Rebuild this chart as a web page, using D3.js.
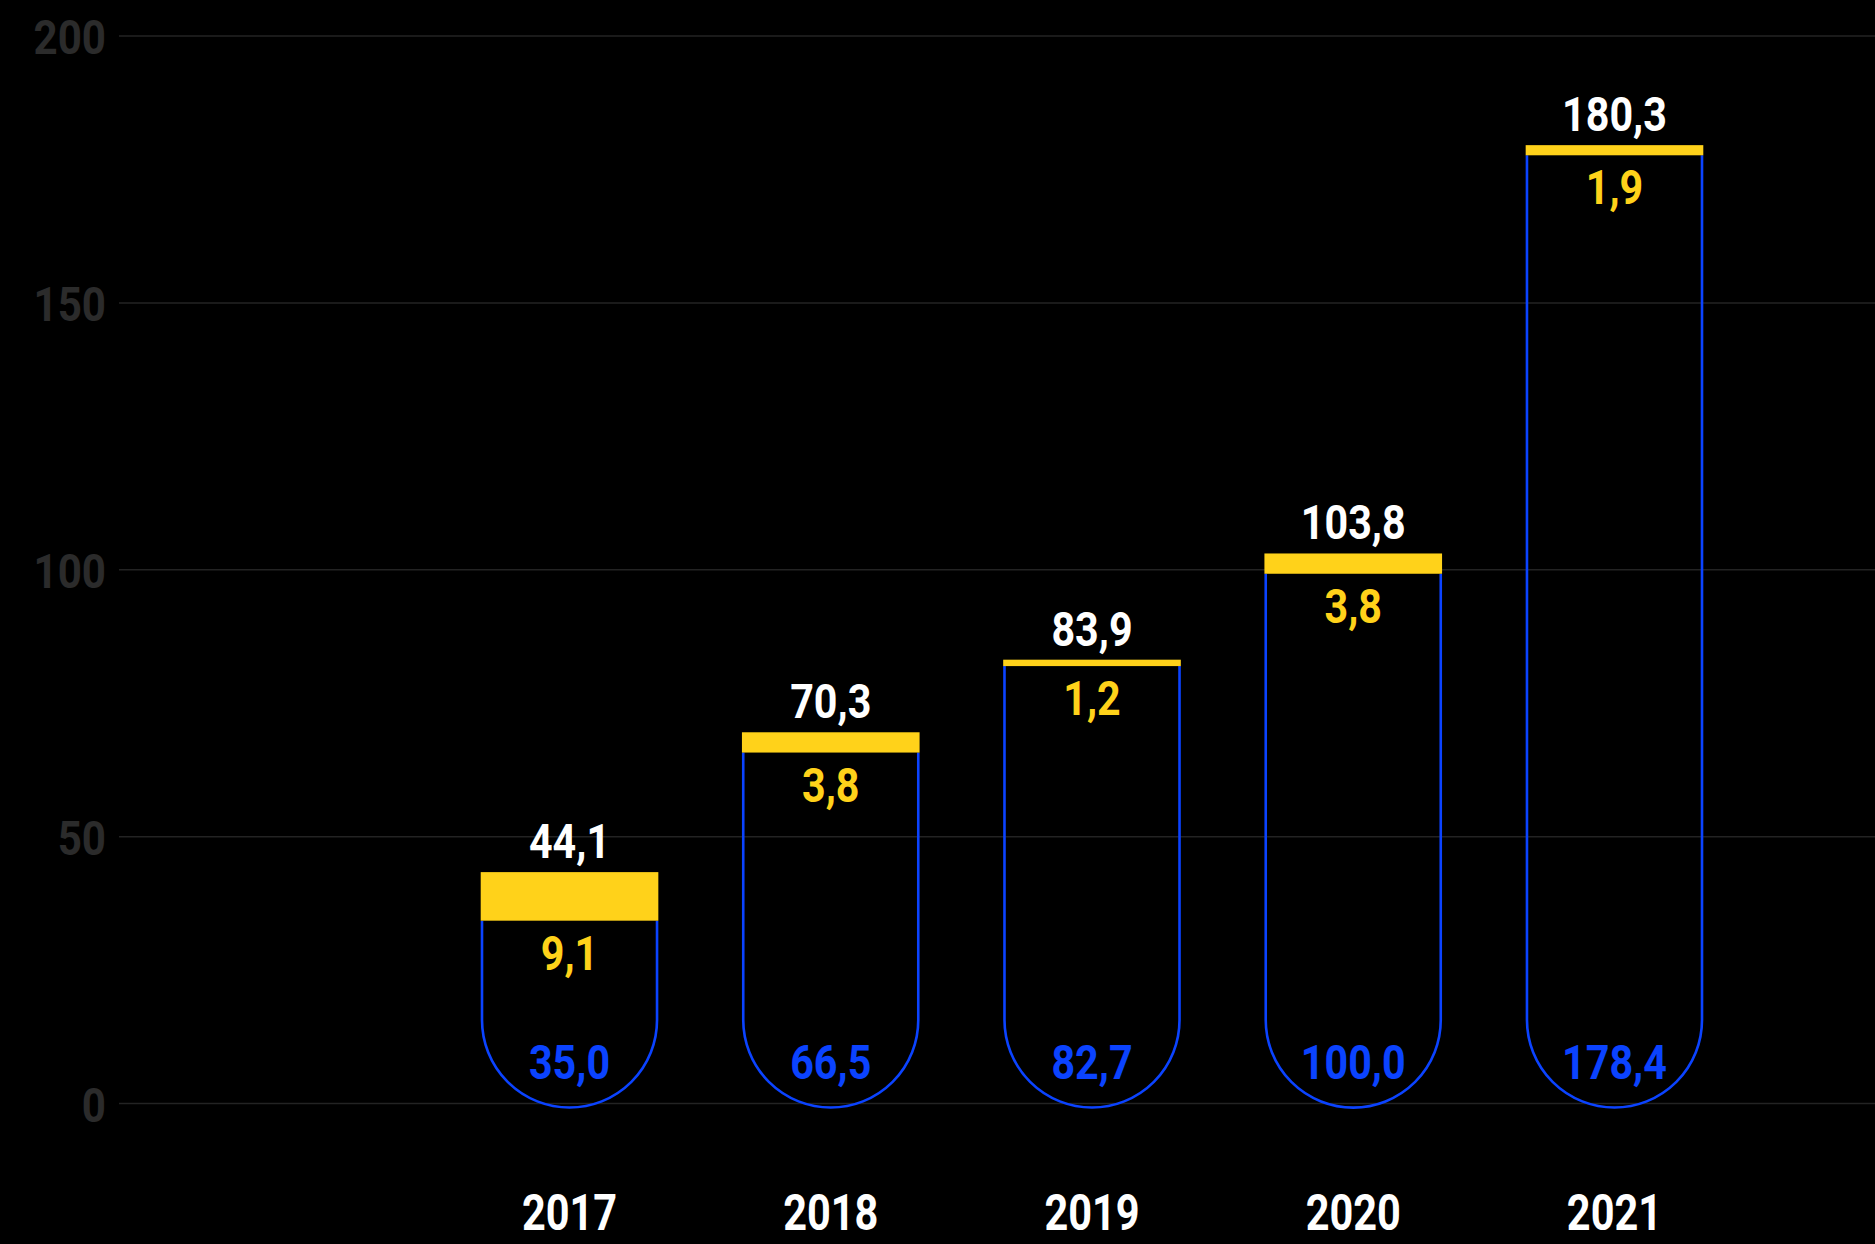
<!DOCTYPE html>
<html>
<head>
<meta charset="utf-8">
<script src="https://cdn.jsdelivr.net/npm/d3@7"></script>
<style>
  html, body { margin: 0; padding: 0; background: #000; }
  text { font-family: Roboto, "Noto Sans", sans-serif; font-weight: 700; }
</style>
</head>
<body>
<div id="chart-area"></div>
<script>
// data
let years = ['2017', '2018', '2019', '2020', '2021']
let totals = [44.1, 70.3, 83.9, 103.8, 180.3]
let yellowVals = [9.1, 3.8, 1.2, 3.8, 1.9]
let blueVals = [35.0, 66.5, 82.7, 100.0, 178.4]
let yTicks = [0, 50, 100, 150, 200]

let width = 1875
let height = 1244

let svg = d3.select('#chart-area').append('svg')
  .attr('width', width)
  .attr('height', height)

// scales
let x = d3.scaleBand().domain(years).range([482, 1702]).paddingInner(0.33)
let y = d3.scaleLinear().domain([0, 200]).range([1103.5, 36])

let squeeze = 0.86  // fonts are condensed in the original

// grid + tick labels
let grid = svg.append('g')
grid.selectAll('line').data(yTicks).enter().append('line')
  .attr('x1', 119).attr('x2', width)
  .attr('y1', d => y(d)).attr('y2', d => y(d))
  .attr('stroke', '#232323')
  .attr('stroke-width', 1.5)

grid.selectAll('text').data(yTicks).enter().append('text')
  .attr('transform', d => 'translate(106,' + (y(d) + 18) + ') scale(' + squeeze + ',1)')
  .attr('text-anchor', 'end')
  .attr('font-size', 49)
  .attr('fill', '#2b2b2b')
  .text(d => d)

// bars
let rows = years.map((yr, i) => ({ year: yr, total: totals[i], yellow: yellowVals[i], blue: blueVals[i] }))

let bars = svg.append('g').attr('transform', 'translate(0,4)')

let bw = x.bandwidth()
let r = bw / 2

// open-topped outline with a round bottom
let blueShape = (d) => {
  let x0 = x(d.year), x1 = x0 + bw
  let top = y(d.blue)
  let base = y(0)
  let p = d3.path()
  p.moveTo(x0, top)
  p.lineTo(x0, base - r)
  p.arc(x0 + r, base - r, r, Math.PI, 0, true)
  p.lineTo(x1, top)
  return p.toString()
}

let g = bars.selectAll('g.bar').data(rows).enter().append('g').attr('class', 'bar')

g.append('path')
  .attr('d', blueShape)
  .attr('fill', 'none')
  .attr('stroke', '#0b43ff')
  .attr('stroke-width', 2.6)

g.append('rect')
  .attr('x', d => x(d.year) - 1.3)
  .attr('width', bw + 2.6)
  .attr('y', d => y(d.total))
  .attr('height', d => y(d.blue) - y(d.total))
  .attr('fill', '#ffd21a')

let fmt = v => v.toFixed(1).replace('.', ',')
let cx = d => x(d.year) + bw / 2

g.append('text')
  .attr('transform', d => 'translate(' + cx(d) + ',' + (y(d.total) - 14) + ') scale(' + squeeze + ',1)')
  .attr('text-anchor', 'middle')
  .attr('font-size', 48)
  .attr('fill', '#fff')
  .text(d => fmt(d.total))

g.append('text')
  .attr('transform', d => 'translate(' + cx(d) + ',' + (y(d.blue) + 49) + ') scale(' + squeeze + ',1)')
  .attr('text-anchor', 'middle')
  .attr('font-size', 48)
  .attr('fill', '#ffd21a')
  .text(d => fmt(d.yellow))

g.append('text')
  .attr('transform', d => 'translate(' + cx(d) + ',' + (y(0) - 29) + ') scale(' + squeeze + ',1)')
  .attr('text-anchor', 'middle')
  .attr('font-size', 48)
  .attr('fill', '#0b43ff')
  .text(d => fmt(d.blue))

// year labels
svg.append('g').selectAll('text').data(years).enter().append('text')
  .attr('transform', d => 'translate(' + (x(d) + bw / 2) + ',1230) scale(0.83,1)')
  .attr('text-anchor', 'middle')
  .attr('font-size', 50)
  .attr('fill', '#fff')
  .text(d => d)
</script>
</body>
</html>
